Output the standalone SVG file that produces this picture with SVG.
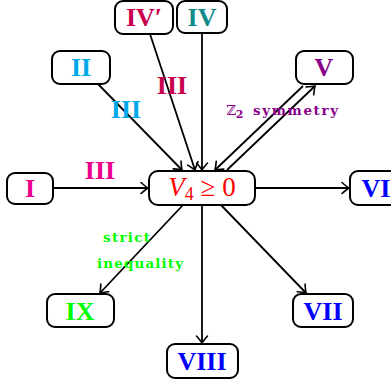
<svg xmlns="http://www.w3.org/2000/svg" width="391" height="381" viewBox="0 0 391 381">
<defs>
<marker id="ah" markerUnits="userSpaceOnUse" markerWidth="12" markerHeight="14" viewBox="-9 -7 11 14" refX="0" refY="0" orient="auto">
<path d="M-7,-5.5 Q-2,-1.2 0,0 Q-2,1.2 -7,5.5" fill="none" stroke="#000" stroke-width="1.6" stroke-linecap="round"/>
</marker>
<style>
.box{fill:#fff;stroke:#000;stroke-width:2}
.nl{font-family:"Liberation Serif",serif;font-weight:bold;font-size:26px;text-anchor:middle}
.el{font-family:"Liberation Serif",serif;font-weight:bold;font-size:26px;text-anchor:middle}
.sm{font-family:"DejaVu Serif","Liberation Serif",serif;font-weight:bold;font-size:13.5px}
.c line{stroke:#000;stroke-width:1.8;marker-end:url(#ah)}
</style>
</defs>
<rect width="391" height="381" fill="#fff"/>
<g class="c" id="connectors">
<line x1="53" y1="188" x2="148" y2="188"/>
<line x1="98" y1="84" x2="182" y2="170"/>
<line x1="150" y1="34" x2="195" y2="170"/>
<line x1="202" y1="33" x2="202" y2="170"/>
<line x1="303" y1="86" x2="215" y2="170"/>
<line x1="227" y1="170" x2="315" y2="86"/>
<line x1="255" y1="188" x2="349" y2="188"/>
<line x1="183" y1="205" x2="100" y2="293"/>
<line x1="202" y1="205" x2="202" y2="343"/>
<line x1="221" y1="205" x2="306" y2="293"/>
</g>
<g id="edge-labels">
<text class="el" x="100" y="179" fill="#ec008c">III</text>
<text class="el" x="126" y="118" fill="#00a8e8">III</text>
<text class="el" x="172" y="94" fill="#c8004e">III</text>
<text class="sm" x="226" y="115" fill="#8b008b" font-size="15"><tspan font-weight="normal">ℤ</tspan><tspan font-size="11" dy="3">2</tspan><tspan dy="-3" x="253" font-size="13.5" textLength="85" lengthAdjust="spacing">symmetry</tspan></text>
<text class="sm" x="103" y="242" fill="#00ff00" textLength="47" lengthAdjust="spacing">strict</text>
<text class="sm" x="97" y="268" fill="#00ff00" textLength="86" lengthAdjust="spacing">inequality</text>
</g>
<g id="center">
<rect class="box" x="149" y="171" width="106" height="34" rx="9"/>
<text x="202" y="196" font-family="Liberation Serif,serif" font-size="27" fill="#ff0000" text-anchor="middle"><tspan font-style="italic">V</tspan><tspan font-size="18" dy="4">4</tspan><tspan dy="-4"> ≥ 0</tspan></text>
</g>
<g id="n-I"><rect class="box" x="7" y="173" width="46" height="31" rx="8"/><text class="nl" x="30" y="197" fill="#ec008c">I</text></g>
<g id="n-II"><rect class="box" x="52" y="51" width="58" height="33" rx="8"/><text class="nl" x="81" y="76" fill="#00a8e8">II</text></g>
<g id="n-IVp"><rect class="box" x="115" y="1" width="58" height="33" rx="8"/><text class="nl" x="144" y="26" fill="#c8004e">IV′</text></g>
<g id="n-IV"><rect class="box" x="177" y="1" width="50" height="32" rx="8"/><text class="nl" x="202" y="26" fill="#0e8a8a">IV</text></g>
<g id="n-V"><rect class="box" x="296" y="51" width="57" height="33" rx="8"/><text class="nl" x="324" y="76" fill="#8b008b">V</text></g>
<g id="n-VI"><rect class="box" x="350" y="171" width="50" height="34" rx="8"/><text class="nl" x="376" y="197" fill="#0000ff">VI</text></g>
<g id="n-IX"><rect class="box" x="47" y="294" width="67" height="33" rx="8"/><text class="nl" x="80" y="320" fill="#00ff00">IX</text></g>
<g id="n-VIII"><rect class="box" x="167" y="344" width="71" height="34" rx="8"/><text class="nl" x="202" y="370" fill="#0000ff">VIII</text></g>
<g id="n-VII"><rect class="box" x="293" y="294" width="60" height="33" rx="8"/><text class="nl" x="323" y="320" fill="#0000ff">VII</text></g>
</svg>
